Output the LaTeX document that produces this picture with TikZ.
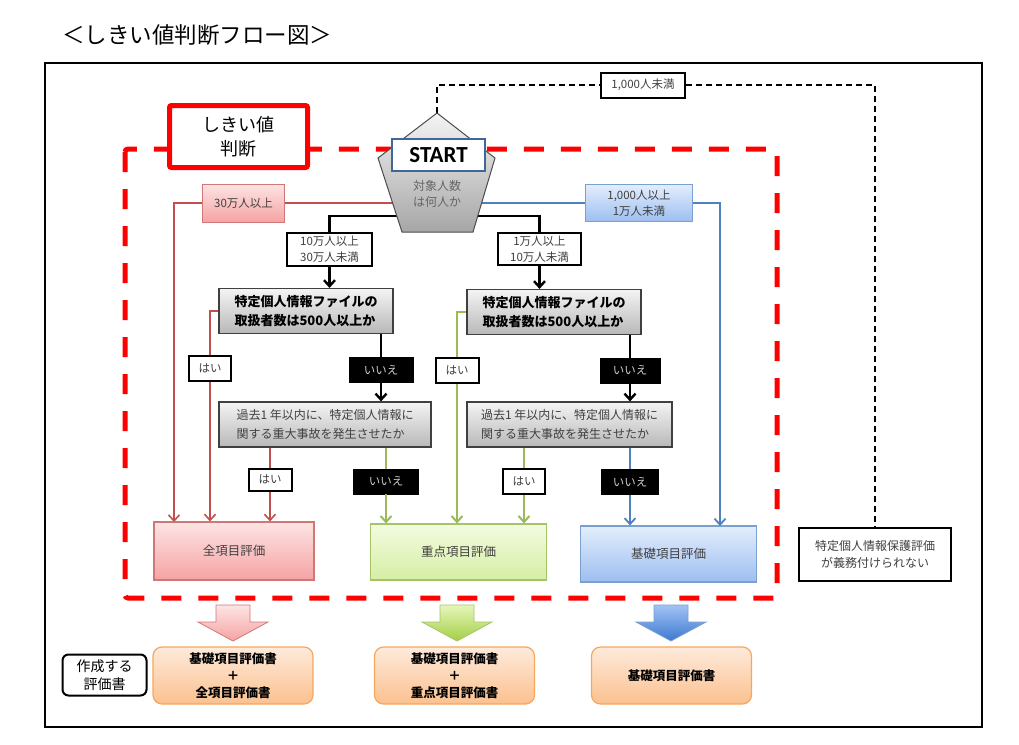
\documentclass[tikz,border=0pt]{standalone}
\usepackage{fontspec}
\setmainfont{Noto Sans CJK JP}
\newfontfamily\startfont{Carlito}
\usetikzlibrary{arrows.meta}
\definecolor{lnred}{HTML}{C0504D}
\definecolor{lngreen}{HTML}{9BBB59}
\definecolor{lnblue}{HTML}{4F81BD}
\definecolor{txgray}{HTML}{404040}
\definecolor{nogray}{HTML}{D0D0D0}
\definecolor{gtop}{HTML}{F4F4F4}
\definecolor{gbot}{HTML}{B8B8B8}
\definecolor{startblue}{HTML}{3F6797}
\definecolor{pktop}{HTML}{FDE4E4}
\definecolor{pkbot}{HTML}{F5A3A3}
\definecolor{pkdraw}{HTML}{D07878}
\definecolor{gntop}{HTML}{F4FBE0}
\definecolor{gnbot}{HTML}{D5EEA4}
\definecolor{gndraw}{HTML}{A5C46A}
\definecolor{bltop}{HTML}{E3EEFC}
\definecolor{blbot}{HTML}{9DBEF0}
\definecolor{bldraw}{HTML}{7AA0D0}
\definecolor{ortop}{HTML}{FEEADB}
\definecolor{orbot}{HTML}{FBC18F}
\definecolor{ordraw}{HTML}{F5A660}
\definecolor{agnt}{HTML}{E6F6BA}
\definecolor{agnb}{HTML}{A3CF45}
\definecolor{ablt}{HTML}{A2C3F5}
\definecolor{ablb}{HTML}{3D78D0}
\begin{document}
\begin{tikzpicture}
  [x=1pt,y=-1pt,
   every node/.style={inner sep=0pt,align=center,text=txgray,font=\fontsize{11.5}{15}\selectfont},
   shikii/.style={draw=red,line width=5pt,fill=white,rounded corners=2pt,minimum width=138pt,minimum height=62pt,text=black,font=\fontsize{18}{24}\selectfont},
   startbox/.style={draw=startblue,line width=2pt,fill=white,minimum width=93pt,minimum height=32pt,text=black,font=\fontsize{23}{26}\startfont\bfseries},
   wlbl/.style={draw=black,line width=2pt,fill=white,minimum height=25pt},
   nolbl/.style={draw=black,fill=black,text=nogray,minimum height=25pt},
   pklbl/.style={draw=pkdraw,line width=1pt,top color=pktop,bottom color=pkbot,minimum width=82pt,minimum height=38pt},
   bllbl/.style={draw=bldraw,line width=1pt,top color=bltop,bottom color=blbot,minimum width=107pt,minimum height=37pt},
   gbox/.style={draw=black!75,line width=1.2pt,top color=gtop,bottom color=gbot,minimum height=45pt,align=left},
   resbox/.style={line width=1.2pt,minimum width=176pt,minimum height=56pt,font=\fontsize{12.5}{15}\selectfont},
   docbox/.style={draw=ordraw,line width=1.2pt,top color=ortop,bottom color=orbot,rounded corners=9pt,minimum width=160pt,minimum height=57pt,text=black,font=\fontsize{12.5}{17}\selectfont\bfseries},
   rline/.style={draw=lnred,line width=1.6pt},
   gline/.style={draw=lngreen,line width=2pt},
   bline/.style={draw=black,line width=2.4pt},
   uline/.style={draw=lnblue,line width=1.8pt},
   dline/.style={draw=black,line width=1.5pt,dash pattern=on 6pt off 4pt},
   tip/.style={-{Straight Barb[length=6pt,width=11pt]}}]
  \useasboundingbox (0,0) rectangle (1019,744);
  \node[anchor=west,text=black,font=\fontsize{22.5}{26}\selectfont] (title) at (62,35) {＜しきい値判断フロー図＞};
  \draw[line width=2pt] (45,63) rectangle (982,727);
  \draw[red,line width=5pt,dash pattern=on 20pt off 17pt,rounded corners=3pt] (125,149) rectangle (777,598);

  \node[shikii] (shk) at (238.5,136.5) {しきい値\\判断};
  \node[wlbl,minimum width=84pt] (l1000) at (643,85) {1,000人未満};
  \node[draw=black,line width=2pt,fill=white,minimum width=152pt,minimum height=53pt,font=\fontsize{12}{17}\selectfont] (nm) at (875,554.5) {特定個人情報保護評価\\が義務付けられない};

  \node[pklbl] (l30) at (243.5,203) {30万人以上};
  \node[bllbl,font=\fontsize{11.5}{16}\selectfont] (l1k) at (639,203) {1,000人以上\\1万人未満};
  \node[wlbl,minimum width=85pt,minimum height=33pt,font=\fontsize{11.5}{16}\selectfont] (lb1) at (329.5,249.5) {10万人以上\\30万人未満};
  \node[wlbl,minimum width=83pt,minimum height=32pt,font=\fontsize{11.5}{16}\selectfont] (lb2) at (539.5,249) {1万人以上\\10万人未満};

  \node[gbox,minimum width=174pt,text=black,font=\fontsize{13}{19}\selectfont\bfseries] (g1) at (306,311) {特定個人情報ファイルの\\取扱者数は500人以上か};
  \node[gbox,minimum width=174pt,text=black,font=\fontsize{13}{19}\selectfont\bfseries] (g2) at (554,312) {特定個人情報ファイルの\\取扱者数は500人以上か};
  \node[gbox,minimum width=212pt,font=\fontsize{12}{19}\selectfont] (k1) at (325,424.5) {過去1 年以内に、特定個人情報に\\関する重大事故を発生させたか};
  \node[gbox,minimum width=205pt,font=\fontsize{12}{19}\selectfont] (k2) at (569.5,424.5) {過去1 年以内に、特定個人情報に\\関する重大事故を発生させたか};

  \node[wlbl,minimum width=42pt] (hai1) at (210,368.5) {はい};
  \node[nolbl,minimum width=64pt] (no1) at (381,370) {いいえ};
  \node[wlbl,minimum width=43pt] (hai2) at (457,370.5) {はい};
  \node[nolbl,minimum width=60pt] (no2) at (630,370.5) {いいえ};
  \node[wlbl,minimum width=43pt,minimum height=22pt] (hai3) at (270,479.5) {はい};
  \node[nolbl,minimum width=65pt] (no3) at (386,481.5) {いいえ};
  \node[wlbl,minimum width=42pt] (hai4) at (524,481) {はい};
  \node[nolbl,minimum width=57pt] (no4) at (630,482) {いいえ};

  \node[resbox,draw=pkdraw,top color=pktop,bottom color=pkbot,minimum width=160pt,minimum height=58pt] (zen) at (234,551) {全項目評価};
  \node[resbox,draw=gndraw,top color=gntop,bottom color=gnbot] (ju) at (458.5,552) {重点項目評価};
  \node[resbox,draw=bldraw,top color=bltop,bottom color=blbot] (ki) at (668.5,554) {基礎項目評価};

  \node[draw=black,line width=2pt,rounded corners=6pt,minimum width=84pt,minimum height=41pt,text=black,font=\fontsize{14}{18}\selectfont] (sak) at (104.5,675) {作成する\\評価書};
  \node[docbox] (d1) at (233,675.5) {基礎項目評価書\\＋\\全項目評価書};
  \node[docbox] (d2) at (454.5,675.5) {基礎項目評価書\\＋\\重点項目評価書};
  \node[docbox] (d3) at (671.5,675.5) {基礎項目評価書};

  \coordinate (ptop) at (437,113);
  \coordinate (p30) at (437,203);
  \coordinate (pb) at (437,216);
  \coordinate (r1) at (174,522);
  \coordinate (b1) at (720,526);

  \draw[dline] (ptop) |- (l1000);
  \draw[dline] (l1000) -| (nm);
  \draw[rline] (p30) -- (l30);
  \draw[rline,tip] (l30) -| (r1);
  \draw[uline] (p30) -- (l1k);
  \draw[uline,tip] (l1k) -| (b1);
  \draw[bline] (pb) -| (lb1);
  \draw[bline] (pb) -| (lb2);
  \draw[bline,tip] (lb1) -- (lb1 |- g1.north);
  \draw[bline,tip] (lb2) -- (lb2 |- g2.north);

  \draw[rline] (g1.west) -| (hai1);
  \draw[rline,tip] (hai1) -- (hai1 |- zen.north);
  \draw[bline] (g1.south -| no1) -- (no1);
  \draw[bline,tip] (no1) -- (no1 |- k1.north);
  \draw[gline] (g2.west) -| (hai2);
  \draw[gline,tip] (hai2) -- (hai2 |- ju.north);
  \draw[bline] (g2.south -| no2) -- (no2);
  \draw[bline,tip] (no2) -- (no2 |- k2.north);

  \draw[rline] (k1.south -| hai3) -- (hai3);
  \draw[rline,tip] (hai3) -- (hai3 |- zen.north);
  \draw[gline] (k1.south -| no3) -- (no3);
  \draw[gline,tip] (no3) -- (no3 |- ju.north);
  \draw[gline] (k2.south -| hai4) -- (hai4);
  \draw[gline,tip] (hai4) -- (hai4 |- ju.north);
  \draw[uline] (k2.south -| no4) -- (no4);
  \draw[uline,tip] (no4) -- (no4 |- ki.north);

  \path[draw=black!70,line width=1pt,top color=gtop,bottom color=black!35]
    (437,113) -- (495,158) -- (473,232) -- (402,232) -- (378,158) -- cycle;
  \node[text=black!60,font=\fontsize{12}{16}\selectfont] (tan) at (437,194) {対象人数\\は何人か};
  \node[startbox] (start) at (438.5,155) {START};

  \foreach \x/\ct/\cb/\cd in {233/pktop/pkbot/pkdraw,457/agnt/agnb/gndraw,671/ablt/ablb/bldraw}
    \path[draw=\cd,line width=0.8pt,top color=\ct,bottom color=\cb]
      ({\x-17},605) -- ({\x+17},605) -- ({\x+17},622) -- ({\x+35},622) -- (\x,641)
      -- ({\x-35},622) -- ({\x-17},622) -- cycle;
\end{tikzpicture}
\end{document}
